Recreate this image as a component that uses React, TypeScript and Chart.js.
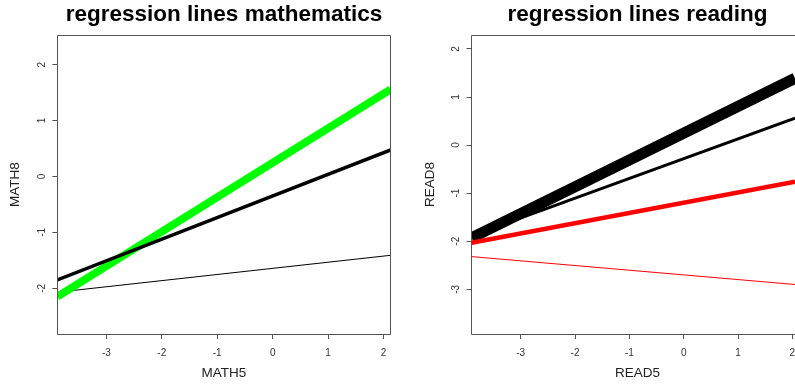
import React, { useEffect, useRef } from "react";
import { Chart, registerables } from "chart.js";
Chart.register(...registerables);

// ---------- data ----------
const mathTitle = "regression lines mathematics";
const mathXLabel = "MATH5";
const mathYLabel = "MATH8";
const mathXRange = [-3.884, 2.128];
const mathYRange = [-2.818, 2.531];
const mathXTicks = [-3, -2, -1, 0, 1, 2];
const mathYTicks = [-2, -1, 0, 1, 2];
// y at left and right edges of the x range
const mathThinBlack = [-2.07, -1.41];
const mathGreen = [-2.15, 1.56];
const mathMedBlack = [-1.85, 0.474];

const readTitle = "regression lines reading";
const readXLabel = "READ5";
const readYLabel = "READ8";
const readXRange = [-3.906, 2.049];
const readYRange = [-3.93, 2.29];
const readXTicks = [-3, -2, -1, 0, 1, 2];
const readYTicks = [-3, -2, -1, 0, 1, 2];
const readThickBlack = [-1.93, 1.39];
const readMedBlack = [-1.89, 0.56];
const readThickRed = [-2.03, -0.76];
const readThinRed = [-2.32, -2.9];

type Series = { y: number[]; color: string; width: number };

type PanelProps = {
  title: string;
  xLabel: string;
  yLabel: string;
  xRange: number[];
  yRange: number[];
  xTicks: number[];
  yTicks: number[];
  series: Series[];
  left: number;
  width: number;
  areaLeft: number;
  areaRightPad: number;
  boxRight: boolean;
  titleCenter: number;
  yLabelX: number;
};

const H = 387;
const AREA_TOP = 35;
const AREA_BOTTOM = 334;
const FONT = '"Liberation Sans", Arial, Helvetica, sans-serif';

function Panel(p: PanelProps) {
  const ref = useRef<HTMLCanvasElement>(null);
  useEffect(() => {
    const canvas = ref.current!;
    const decor = {
      id: "decor",
      afterDraw(chart: any) {
        const { ctx, chartArea: a } = chart;
        ctx.save();
        ctx.strokeStyle = "#555";
        ctx.lineWidth = 1;
        const l = Math.floor(a.left) + 0.5;
        const t = Math.floor(a.top) + 0.5;
        const b = Math.floor(a.bottom) + 0.5;
        const r = Math.floor(a.right) + 0.5;
        ctx.beginPath();
        if (p.boxRight) {
          ctx.moveTo(r, b);
          ctx.lineTo(r, t);
        } else {
          ctx.moveTo(a.right + 2, t);
        }
        ctx.lineTo(l, t);
        ctx.lineTo(l, b);
        ctx.lineTo(p.boxRight ? r : a.right + 2, b);
        ctx.stroke();

        ctx.fillStyle = "#000";
        ctx.font = `bold 22.5px ${FONT}`;
        ctx.textAlign = "center";
        ctx.textBaseline = "alphabetic";
        ctx.fillText(p.title, p.titleCenter, 21);

        ctx.fillStyle = "#222";
        ctx.font = `13.5px ${FONT}`;
        ctx.textBaseline = "middle";
        ctx.fillText(p.xLabel, p.titleCenter, 373);
        ctx.save();
        ctx.translate(p.yLabelX, (AREA_TOP + AREA_BOTTOM) / 2);
        ctx.rotate(-Math.PI / 2);
        ctx.fillText(p.yLabel, 0, 0);
        ctx.restore();
        ctx.restore();
      },
    };

    const datasets = p.series.map((s) => ({
      data: [
        { x: p.xRange[0], y: s.y[0] },
        { x: p.xRange[1], y: s.y[1] },
      ],
      borderColor: s.color,
      backgroundColor: s.color,
      borderWidth: s.width,
      showLine: true,
      pointRadius: 0,
      fill: false,
      clip: 0,
      borderCapStyle: "butt" as const,
    }));
    // first series drawn first (bottom)
    datasets.reverse();

    const chart = new Chart(canvas, {
      type: "scatter",
      data: { datasets },
      plugins: [decor],
      options: {
        animation: false,
        responsive: false,
        devicePixelRatio: 1,
        layout: { padding: { top: AREA_TOP, right: p.areaRightPad, left: 0, bottom: 0 } },
        plugins: { legend: { display: false }, tooltip: { enabled: false }, title: { display: false } },
        events: [],
        scales: {
          x: {
            type: "linear",
            min: p.xRange[0],
            max: p.xRange[1],
            afterBuildTicks: (scale: any) => {
              scale.ticks = p.xTicks.map((v) => ({ value: v }));
            },
            afterFit: (scale: any) => {
              scale.height = H - AREA_BOTTOM;
              scale.paddingLeft = 0;
              scale.paddingRight = 0;
            },
            grid: { display: true, drawOnChartArea: false, drawTicks: true, tickLength: 5, color: "#555", lineWidth: 1 },
            border: { display: false },
            ticks: {
              font: { family: FONT, size: 10 },
              color: "#333",
              padding: 8,
              maxRotation: 0,
              minRotation: 0,
              callback: (v: any) => String(v),
            },
          },
          y: {
            type: "linear",
            min: p.yRange[0],
            max: p.yRange[1],
            afterBuildTicks: (scale: any) => {
              scale.ticks = p.yTicks.map((v) => ({ value: v }));
            },
            afterFit: (scale: any) => {
              scale.width = p.areaLeft;
              scale.paddingTop = 0;
              scale.paddingBottom = 0;
            },
            grid: { display: true, drawOnChartArea: false, drawTicks: true, tickLength: 5, color: "#555", lineWidth: 1 },
            border: { display: false },
            ticks: {
              font: { family: FONT, size: 10 },
              color: "#333",
              padding: 6,
              minRotation: 90,
              maxRotation: 90,
              crossAlign: "center",
              callback: (v: any) => String(v),
            },
          },
        },
      } as any,
    });
    return () => chart.destroy();
  }, []);
  return (
    <canvas
      ref={ref}
      width={p.width}
      height={H}
      style={{ position: "absolute", left: p.left, top: 0, width: p.width, height: H }}
    />
  );
}

export default function App() {
  return (
    <div style={{ position: "fixed", left: 0, top: 0, width: 795, height: H, background: "#fff", overflow: "hidden" }}>
      <Panel
        title={mathTitle}
        xLabel={mathXLabel}
        yLabel={mathYLabel}
        xRange={mathXRange}
        yRange={mathYRange}
        xTicks={mathXTicks}
        yTicks={mathYTicks}
        series={[
          { y: mathThinBlack, color: "#000000", width: 1 },
          { y: mathGreen, color: "#00ff00", width: 8 },
          { y: mathMedBlack, color: "#000000", width: 3.5 },
        ]}
        left={0}
        width={400}
        areaLeft={57.3}
        areaRightPad={400 - 390.7}
        boxRight={true}
        titleCenter={224}
        yLabelX={15.5}
      />
      <Panel
        title={readTitle}
        xLabel={readXLabel}
        yLabel={readYLabel}
        xRange={readXRange}
        yRange={readYRange}
        xTicks={readXTicks}
        yTicks={readYTicks}
        series={[
          { y: readThickBlack, color: "#000000", width: 11 },
          { y: readMedBlack, color: "#000000", width: 3 },
          { y: readThickRed, color: "#ff0000", width: 4.5 },
          { y: readThinRed, color: "#ff0000", width: 1 },
        ]}
        left={400}
        width={395}
        areaLeft={71.5}
        areaRightPad={0}
        boxRight={false}
        titleCenter={237.5}
        yLabelX={30}
      />
    </div>
  );
}
